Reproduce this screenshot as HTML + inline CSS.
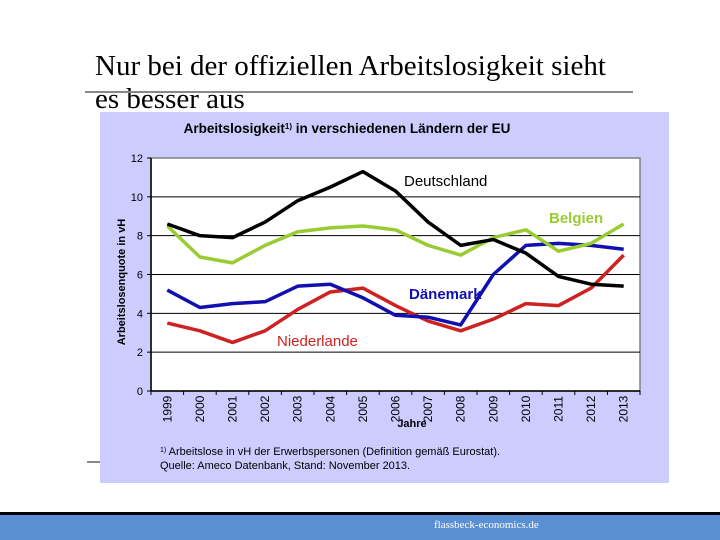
<!DOCTYPE html>
<html><head><meta charset="utf-8"><style>
body{margin:0;width:720px;height:540px;overflow:hidden;background:#fff;position:relative;font-family:"Liberation Sans",sans-serif}
.abs{position:absolute}
</style></head><body>
<div class="abs" style="left:95px;top:50px;font-family:'Liberation Serif',serif;font-size:29px;line-height:33px;color:#000;white-space:nowrap">Nur bei der offiziellen Arbeitslosigkeit sieht<br>es besser aus</div>
<div class="abs" style="left:85px;top:91px;width:548px;height:2px;background:#888"></div>
<div class="abs" style="left:87px;top:461px;width:14px;height:2px;background:#888"></div>
<div class="abs" style="left:0;top:512px;width:720px;height:3px;background:#000"></div>
<div class="abs" style="left:0;top:515px;width:720px;height:25px;background:#5a8fd4"></div>
<div class="abs" style="left:434px;top:519px;font-family:'Liberation Serif',serif;font-size:11px;color:#fff">flassbeck-economics.de</div>
<svg class="abs" style="left:0;top:0" width="720" height="540" id="chart">
<rect x="100" y="112" width="569" height="371" fill="#ccccff"/>
<text x="347" y="133" font-size="13.5" font-weight="bold" text-anchor="middle">Arbeitslosigkeit<tspan font-size="8" dy="-4">1)</tspan><tspan dy="4"> in verschiedenen Ländern der EU</tspan></text>
<text transform="translate(125,282) rotate(-90)" font-size="11" font-weight="bold" text-anchor="middle">Arbeitslosenquote in vH</text>
<text x="412" y="427" font-size="11" font-weight="bold" text-anchor="middle">Jahre</text>
<text x="160" y="455" font-size="11"><tspan font-size="7" dy="-3">1)</tspan><tspan dy="3"> Arbeitslose in vH der Erwerbspersonen (Definition gemäß Eurostat).</tspan></text>
<text x="160" y="469" font-size="11">Quelle: Ameco Datenbank, Stand: November 2013.</text>
<g id="plot"></g>
</svg>
<script>
const years=["1999","2000","2001","2002","2003","2004","2005","2006","2007","2008","2009","2010","2011","2012","2013"];
const yTicks=[0,2,4,6,8,10,12];
const deutschland=[8.6,8.0,7.9,8.7,9.8,10.5,11.3,10.3,8.7,7.5,7.8,7.1,5.9,5.5,5.4];
const belgien=[8.5,6.9,6.6,7.5,8.2,8.4,8.5,8.3,7.5,7.0,7.9,8.3,7.2,7.6,8.6];
const daenemark=[5.2,4.3,4.5,4.6,5.4,5.5,4.8,3.9,3.8,3.4,6.0,7.5,7.6,7.5,7.3];
const niederlande=[3.5,3.1,2.5,3.1,4.2,5.1,5.3,4.4,3.6,3.1,3.7,4.5,4.4,5.3,7.0];
const L=151,R=640,T=158,B=391;
const bw=(R-L)/years.length;
const xs=i=>L+bw*(i+0.5);
const ys=v=>B-(v/12)*(B-T);
const NS="http://www.w3.org/2000/svg";
const g=document.getElementById('plot');
function mk(t,a){const e=document.createElementNS(NS,t);for(const k in a)e.setAttribute(k,a[k]);g.appendChild(e);return e;}
let r=mk('rect',{x:L,y:T,width:R-L,height:B-T,fill:'#fff',stroke:'#808080','stroke-width':1.5});


yTicks.forEach(v=>{
 if(v>0&&v<12){let l=mk('line',{x1:L,x2:R,y1:ys(v),y2:ys(v),stroke:'#000','stroke-width':1});
 
 }
 let tk=mk('line',{x1:L-4,x2:L,y1:ys(v),y2:ys(v),stroke:'#000'});
 
 
 let t=mk('text',{x:L-8,y:ys(v)+4,'font-size':11,'text-anchor':'end'});t.textContent=v;
 
 
});
let ax=mk('line',{x1:L,x2:R,y1:B,y2:B,stroke:'#000','stroke-width':1.5});


let ay=mk('line',{x1:L,x2:L,y1:T,y2:B,stroke:'#000','stroke-width':1.5});


for(let i=0;i<=years.length;i++){let tk=mk('line',{x1:L+bw*i,x2:L+bw*i,y1:B,y2:B+4,stroke:'#000'});
 
 }
years.forEach((y,i)=>{let t=mk('text',{transform:`translate(${xs(i)+4},${B+18}) rotate(-90)`,'font-size':12,'text-anchor':'middle'});t.textContent=y;
 
 });
const series=[[niederlande,'#cc2222','niederlande-line'],[daenemark,'#1010b0','daenemark-line'],[belgien,'#99cc33','belgien-line'],[deutschland,'#000','deutschland-line']];
series.forEach(([d,c,n])=>{let p=mk('polyline',{points:d.map((v,i)=>xs(i)+','+ys(v)).join(' '),fill:'none',stroke:c,'stroke-width':3.5,'stroke-linejoin':'round'});
 
 });
const labels=[['Deutschland',404,186,'#000','label-deutschland','normal'],['Belgien',549,223,'#99cc33','label-belgien','bold'],['Dänemark',409,299,'#1010b0','label-daenemark','bold'],['Niederlande',277,346,'#cc2222','label-niederlande','normal']];
labels.forEach(([s,x,y,c,n,w])=>{let t=mk('text',{x:x,y:y,'font-size':15,'font-weight':w,fill:c});t.textContent=s;
 
 });
</script>
</body></html>
